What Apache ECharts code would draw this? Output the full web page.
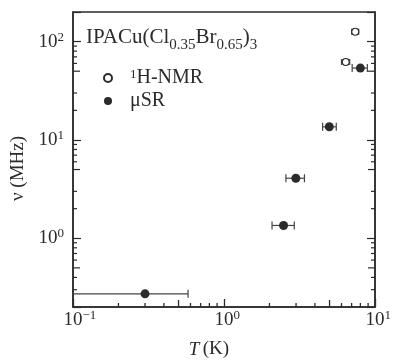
<!DOCTYPE html>
<html>
<head>
<meta charset="utf-8">
<script src="https://cdn.jsdelivr.net/npm/echarts@6/dist/echarts.min.js"></script>
<style>html,body{margin:0;padding:0;background:#fff;}#c{width:394px;height:364px;}</style>
</head>
<body>
<div id="c"></div>
<script>
// ---- data ----
const nmrT   = [6.4, 7.4];
const nmrNu  = [62, 126];
const nmrTLo = [6.0, 7.0];
const nmrTHi = [6.8, 7.8];

const musrT   = [0.30, 2.48, 2.99, 4.98, 8.0];
const musrNu  = [0.272, 1.35, 4.08, 13.6, 53.8];
const musrTLo = [0.02, 2.08, 2.57, 4.5, 7.06];
const musrTHi = [0.578, 2.92, 3.41, 5.54, 8.9];

const xMinorTicks = [0.2,0.3,0.4,0.5,0.6,0.7,0.8,0.9,2,3,4,5,6,7,8,9];
const yMinorTicks = [0.3,0.4,0.5,0.6,0.7,0.8,0.9,2,3,5,6,7,8,9,20,30,50,60,70,80,90];

const xMin = 0.1, xMax = 10, yMin = 0.2, yMax = 200;
const ink = '#2b2b2b';
const serif = '"Liberation Serif","DejaVu Serif",serif';

const nmrData = nmrT.map((t, i) => [t, nmrNu[i], nmrTLo[i], nmrTHi[i]]);
const musrData = musrT.map((t, i) => [t, musrNu[i], musrTLo[i], musrTHi[i]]);

function supLabel(v, hidePrefix) {
  const e = Math.round(Math.log10(v));
  if (Math.abs(Math.log10(v) - e) > 1e-6) return '';
  const s = String(e).replace('-', '\u2212');
  return (hidePrefix ? '{h|' + s + '}' : '') + '{b|10}{s|' + s + '}';
}
const labelRich = {
  b: {fontFamily: serif, fontSize: 19, color: ink, lineHeight: 22},
  s: {fontFamily: serif, fontSize: 13, color: ink, verticalAlign: 'top', lineHeight: 22, padding: [0,0,8,0]},
  h: {fontFamily: serif, fontSize: 13, color: 'transparent', lineHeight: 22}
};

function errorBar(capH) {
  return function (params, api) {
    const y = api.value(1);
    const pl = api.coord([api.value(2), y]);
    const ph = api.coord([api.value(3), y]);
    const st = {stroke: '#444', lineWidth: 1.2};
    const cs = params.coordSys;
    const children = [
      {type: 'line', shape: {x1: pl[0], y1: pl[1], x2: ph[0], y2: ph[1]}, style: st}
    ];
    if (pl[0] >= cs.x) children.push({type: 'line', shape: {x1: pl[0], y1: pl[1] - capH/2, x2: pl[0], y2: pl[1] + capH/2}, style: st});
    if (ph[0] <= cs.x + cs.width) children.push({type: 'line', shape: {x1: ph[0], y1: ph[1] - capH/2, x2: ph[0], y2: ph[1] + capH/2}, style: st});
    return {type: 'group', children: children};
  };
}
function tickLen(v) {
  const m = v / Math.pow(10, Math.floor(Math.log10(v) + 1e-9));
  return Math.abs(m - 5) < 1e-6 ? 7 : 4;
}

const chart = echarts.init(document.getElementById('c'), null, {renderer: 'canvas'});
chart.setOption({
  animation: false,
  backgroundColor: '#fff',
  title: {
    text: '{t|IPACu(Cl}{s|0.35}{t|Br}{s|0.65}{t|)}{s|3}',
    left: 81, top: 20,
    textStyle: {
      fontWeight: 'normal',
      rich: {
        t: {fontFamily: serif, fontSize: 21, fontWeight: 'normal', color: ink, lineHeight: 24},
        s: {fontFamily: serif, fontSize: 15, fontWeight: 'normal', color: ink, verticalAlign: 'bottom', lineHeight: 15, padding: [0,0,-4,0]}
      }
    }
  },
  legend: {
    orient: 'vertical', left: 98, top: 63,
    itemWidth: 8, itemHeight: 8, itemGap: 3,
    data: ['NMR', 'muSR'],
    formatter: function (n) {
      return n === 'NMR' ? '{sp|}{s|1}{t|H-NMR}' : '{sp|}{t|\u03bcSR}';
    },
    textStyle: {
      rich: {
        sp: {width: 13},
        t: {fontFamily: serif, fontSize: 20, color: ink, lineHeight: 20},
        s: {fontFamily: serif, fontSize: 13, color: ink, verticalAlign: 'top', lineHeight: 20, padding: [0,0,6,0]}
      }
    }
  },
  grid: {left: 73, right: 18, top: 12, bottom: 48, show: true, borderColor: ink, borderWidth: 1.5, backgroundColor: 'transparent'},
  xAxis: {
    type: 'log', logBase: 10, min: xMin, max: xMax,
    name: '{i|T} {t|(K)}', nameLocation: 'middle', nameGap: 33,
    nameTextStyle: {padding: [0, 30, 0, 0], rich: {
      i: {fontFamily: serif, fontStyle: 'italic', fontSize: 19, color: ink},
      t: {fontFamily: serif, fontSize: 19, color: ink}
    }},
    axisLine: {lineStyle: {color: ink, width: 1.5}},
    axisTick: {show: true, inside: true, length: 8, lineStyle: {color: ink, width: 1.3}},
    axisLabel: {margin: 2, formatter: v => supLabel(v, true), rich: labelRich},
    splitLine: {show: false}
  },
  yAxis: [{
    type: 'log', logBase: 10, min: yMin, max: yMax,
    name: '\u03bd (MHz)', nameLocation: 'middle', nameGap: 44, nameRotate: 90,
    nameTextStyle: {fontFamily: serif, fontSize: 19, color: ink, padding: [0, 18, 0, 0]},
    axisLine: {lineStyle: {color: ink, width: 1.5}},
    axisTick: {inside: true, length: 8, lineStyle: {color: ink, width: 1.2}},
    axisLabel: {margin: 9, formatter: v => supLabel(v, false), rich: labelRich},
    splitLine: {show: false}
  }, {
    type: 'log', logBase: 10, min: yMin, max: yMax, position: 'right',
    axisLine: {lineStyle: {color: ink, width: 1.5}},
    axisTick: {inside: true, length: 8, lineStyle: {color: ink, width: 1.2}},
    axisLabel: {show: false},
    splitLine: {show: false}
  }],
  series: [
    {type: 'custom', name: 'nmrErr', silent: true, clip: true, renderItem: errorBar(6), data: nmrData, z: 2},
    {type: 'custom', name: 'musrErr', silent: true, clip: true, renderItem: errorBar(8), data: musrData, z: 2},
    {type: 'scatter', name: 'NMR', data: nmrData.map(d => [d[0], d[1]]), symbol: 'circle', symbolSize: 7,
     itemStyle: {color: '#fff', borderColor: ink, borderWidth: 1.1, opacity: 1}, z: 3},
    {type: 'scatter', name: 'muSR', data: musrData.map(d => [d[0], d[1]]), symbol: 'circle', symbolSize: 9,
     itemStyle: {color: ink, opacity: 1}, z: 3},
    {type: 'custom', name: 'xMinor', silent: true, data: xMinorTicks.map(v => [v, 1]), z: 4,
     renderItem: function (params, api) {
       const v = api.value(0), cs = params.coordSys, x = api.coord([v, 1])[0], b = cs.y + cs.height, L = tickLen(v);
       return {type: 'line', shape: {x1: x, y1: b, x2: x, y2: b - L}, style: {stroke: ink, lineWidth: 1.3}};
     }},
    {type: 'custom', name: 'yMinor', silent: true, data: yMinorTicks.map(v => [1, v]), z: 4,
     renderItem: function (params, api) {
       const v = api.value(1), cs = params.coordSys, y = api.coord([1, v])[1], L = tickLen(v);
       const st = {stroke: ink, lineWidth: 1.2};
       return {type: 'group', children: [
         {type: 'line', shape: {x1: cs.x, y1: y, x2: cs.x + L, y2: y}, style: st},
         {type: 'line', shape: {x1: cs.x + cs.width, y1: y, x2: cs.x + cs.width - L, y2: y}, style: st}
       ]};
     }}
  ]
});
</script>
</body>
</html>
